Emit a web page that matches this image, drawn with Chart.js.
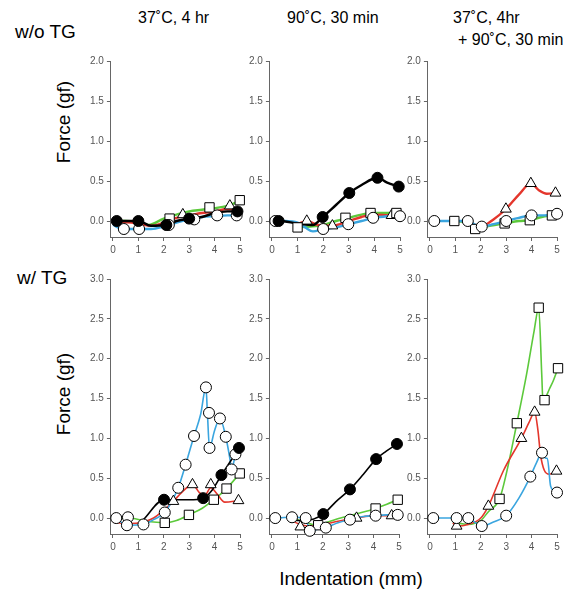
<!DOCTYPE html>
<html><head><meta charset="utf-8">
<script src="https://cdn.jsdelivr.net/npm/chart.js@4.4.1/dist/chart.umd.min.js"></script>
<style>
html,body{margin:0;padding:0;background:#fff;}
body{width:571px;height:592px;position:relative;overflow:hidden;font-family:"Liberation Sans",Arial,sans-serif;}
.t{position:absolute;white-space:nowrap;color:#000;line-height:1;}
canvas{position:absolute;}
</style></head><body>
<div class="t" style="left:15px;top:22px;font-size:19px;">w/o TG</div>
<div class="t" style="left:17px;top:268px;font-size:19px;">w/ TG</div>
<div class="t" style="left:138px;top:10px;font-size:16px;">37˚C, 4 hr</div>
<div class="t" style="left:287px;top:10px;font-size:16px;">90˚C, 30 min</div>
<div class="t" style="left:453px;top:10px;font-size:16px;">37˚C, 4hr</div>
<div class="t" style="left:458px;top:32px;font-size:16px;">+ 90˚C, 30 min</div>
<div class="t" style="left:63px;top:122px;font-size:19px;transform:translate(-50%,-50%) rotate(-90deg);">Force (gf)</div>
<div class="t" style="left:63px;top:394px;font-size:19px;transform:translate(-50%,-50%) rotate(-90deg);">Force (gf)</div>
<div class="t" style="left:351px;top:569px;font-size:19px;transform:translateX(-50%);">Indentation (mm)</div>
<script>
// ---- tick labels ----
const xTicks = [0, 1, 2, 3, 4, 5];
const yTicksTop = [0, 0.5, 1.0, 1.5, 2.0];
const yTicksBottom = [0, 0.5, 1.0, 1.5, 2.0, 2.5, 3.0];

// ---- Panel A: w/o TG, 37˚C 4 hr ----
const A_green = [[0,0],[0.5,0],[1.0,-0.02],[1.4,-0.05],[2.0,0.03],[2.5,0.08],[3.0,0.12],[3.5,0.14],[4.0,0.16],[4.5,0.19],[5.0,0.25]];
const A_red   = [[0,0],[1.0,-0.03],[1.5,-0.06],[2.0,-0.02],[2.5,0.04],[3.0,0.07],[3.5,0.1],[4.0,0.12],[4.5,0.15],[5.0,0.14]];
const A_blue  = [[0,-0.05],[0.4,-0.1],[1.0,-0.1],[1.5,-0.1],[2.0,-0.07],[2.5,-0.02],[3.0,0.02],[3.5,0.05],[4.0,0.06],[4.5,0.07],[5.0,0.07]];
const A_black = [[0.15,0],[1.0,0],[1.5,-0.06],[2.1,-0.05],[2.5,0.0],[3.0,0.03],[3.5,0.05],[4.0,0.1],[4.5,0.12],[4.9,0.12]];
const A_fill  = [[0.15,0],[1.0,0],[2.1,-0.05],[3.0,0.03],[4.9,0.12]];
const A_open  = [[0.43,-0.1],[1.03,-0.1],[2.2,-0.05],[3.2,0.02],[4.1,0.07],[4.87,0.07]];
const A_sq    = [[2.23,0.03],[3.8,0.17],[4.99,0.26]];
const A_tri   = [[2.75,0.08],[4.6,0.19]];

// ---- Panel B: w/o TG, 90˚C 30 min ----
const B_green = [[1.0,-0.08],[1.5,-0.07],[2.0,-0.05],[2.5,0.0],[3.0,0.04],[3.5,0.08],[3.85,0.1],[4.3,0.1],[4.86,0.1]];
const B_red   = [[1.0,-0.04],[1.36,0],[1.8,-0.05],[2.36,-0.06],[3.0,0.0],[3.5,0.05],[4.0,0.08],[4.67,0.07]];
const B_blue  = [[0,0],[0.5,0],[1.0,-0.02],[1.3,-0.08],[1.6,-0.13],[2.0,-0.1],[2.5,-0.08],[3.0,-0.04],[3.5,0.0],[4.0,0.04],[4.5,0.06],[5.0,0.07]];
const B_black = [[0.13,0],[0.26,0],[1.0,-0.03],[1.6,-0.05],[1.98,0.05],[2.5,0.2],[3.02,0.35],[3.5,0.45],[4.12,0.54],[4.5,0.48],[4.95,0.43]];
const B_fill  = [[0.26,0],[1.98,0.05],[3.02,0.35],[4.12,0.54],[4.95,0.43]];
const B_open  = [[0.13,0],[2.0,-0.1],[2.98,-0.04],[3.95,0.04],[5.0,0.06]];
const B_sq    = [[1.0,-0.08],[2.87,0.04],[3.85,0.1],[4.86,0.1]];
const B_tri   = [[1.36,0],[2.36,-0.06],[4.67,0.07]];

// ---- Panel C: w/o TG, 37˚C 4hr + 90˚C 30 min ----
const C_green = [[0.96,0],[1.5,-0.02],[1.78,-0.1],[2.2,-0.07],[2.94,-0.03],[3.5,0.0],[3.93,0.01],[4.4,0.05],[4.8,0.07]];
const C_red   = [[1.8,-0.05],[2.04,-0.06],[2.5,0.02],[2.99,0.15],[3.5,0.33],[3.97,0.47],[4.3,0.38],[4.6,0.34],[4.94,0.35]];
const C_blue  = [[0,0],[0.5,0],[1.0,0],[1.5,0],[1.8,-0.05],[2.04,-0.07],[2.5,-0.04],[3.0,0],[3.5,0.04],[4.0,0.07],[4.5,0.07],[5.0,0.09]];
const C_black = [];
const C_fill  = [];
const C_open  = [[0.17,0],[1.49,0],[2.04,-0.07],[3.0,0],[4.0,0.07],[5.0,0.09]];
const C_sq    = [[0.96,0],[1.78,-0.1],[2.94,-0.03],[3.93,0.01],[4.8,0.07]];
const C_tri   = [[2.99,0.15],[3.97,0.47],[4.94,0.35]];

// ---- Panel D: w/ TG, 37˚C 4 hr ----
const D_green = [[0,0],[0.6,0],[1.2,-0.03],[1.6,-0.05],[2.04,-0.06],[2.5,-0.03],[2.99,0.04],[3.5,0.12],[3.97,0.23],[4.47,0.37],[4.99,0.56]];
const D_red   = [[0,-0.05],[0.6,-0.07],[1.2,-0.05],[1.6,0.0],[2.0,0.1],[2.38,0.21],[2.7,0.32],[3.13,0.42],[3.4,0.32],[3.6,0.28],[3.85,0.38],[4.1,0.3],[4.4,0.2],[4.94,0.22]];
const D_blue  = [[0.13,0],[0.55,-0.09],[1.2,-0.08],[1.6,-0.02],[2.04,0.07],[2.3,0.2],[2.57,0.38],[2.86,0.67],[3.19,1.03],[3.45,1.3],[3.66,1.64],[3.72,1.3],[3.8,0.88],[4.0,1.1],[4.21,1.25],[4.44,1.02],[4.6,0.75],[4.67,0.61],[4.82,0.8],[4.9,0.85]];
const D_black = [[1.2,-0.02],[2.01,0.23],[2.5,0.23],[3.0,0.23],[3.55,0.25],[3.9,0.35],[4.27,0.54],[4.6,0.7],[4.96,0.88]];
const D_fill  = [[2.01,0.23],[3.55,0.25],[4.27,0.54],[4.96,0.88]];
const D_open  = [[0.13,0],[0.59,0.01],[0.55,-0.09],[1.2,-0.08],[2.04,0.07],[2.57,0.38],[2.86,0.67],[3.19,1.03],[3.66,1.64],[3.78,1.32],[3.8,0.88],[4.21,1.25],[4.44,1.02],[4.67,0.61],[4.82,0.8]];
const D_sq    = [[2.04,-0.06],[2.99,0.04],[3.97,0.23],[4.47,0.37],[4.99,0.56]];
const D_tri   = [[2.38,0.21],[3.13,0.42],[3.85,0.42],[4.94,0.22]];

// ---- Panel E: w/ TG, 90˚C 30 min ----
const E_green = [[0.8,0],[1.3,-0.05],[1.82,-0.09],[2.2,-0.05],[2.7,0.0],[3.3,0.05],[4.08,0.12],[4.5,0.17],[4.95,0.23]];
const E_red   = [[0.7,-0.02],[1.12,-0.08],[1.5,-0.1],[2.0,-0.08],[2.6,-0.04],[3.33,0.0],[4.0,0.03],[4.71,0.03]];
const E_blue  = [[0.13,0],[0.79,0.01],[1.33,0],[1.49,-0.16],[1.8,-0.14],[2.12,-0.12],[2.6,-0.06],[3.07,-0.02],[3.6,0.02],[4.08,0.03],[4.5,0.04],[4.95,0.04]];
const E_black = [[0.7,-0.03],[1.3,-0.03],[2.02,0.05],[2.5,0.2],[3.07,0.36],[3.6,0.55],[4.1,0.74],[4.5,0.84],[4.92,0.93]];
const E_fill  = [[2.02,0.05],[3.07,0.36],[4.1,0.74],[4.92,0.93]];
const E_open  = [[0.13,0],[0.79,0.01],[1.33,0],[1.49,-0.16],[2.12,-0.12],[3.07,-0.02],[4.08,0.03],[4.95,0.04]];
const E_sq    = [[1.82,-0.09],[4.08,0.12],[4.95,0.23]];
const E_tri   = [[1.12,-0.11],[3.33,0.0],[4.71,0.03]];

// ---- Panel F: w/ TG, 37˚C 4hr + 90˚C 30 min ----
const F_green = [[0.9,-0.05],[1.5,-0.08],[2.0,-0.03],[2.3,0.08],[2.74,0.24],[3.0,0.55],[3.42,1.19],[3.8,1.8],[4.1,2.35],[4.28,2.64],[4.4,1.8],[4.45,1.45],[4.51,1.48],[4.7,1.62],[4.85,1.72],[5.04,1.88]];
const F_red   = [[0.9,-0.06],[1.05,-0.1],[1.5,-0.08],[2.0,0.0],[2.3,0.15],[2.9,0.6],[3.6,1.0],[3.9,1.2],[4.12,1.33],[4.25,1.1],[4.35,0.8],[4.5,0.6],[4.7,0.55],[4.98,0.59]];
const F_blue  = [[0.13,0],[1.05,0],[1.51,0],[1.8,-0.06],[2.04,-0.1],[2.5,-0.05],[3.0,0.03],[3.5,0.25],[3.95,0.52],[4.2,0.7],[4.41,0.82],[4.55,0.75],[4.62,0.75],[4.75,0.4],[5.0,0.32]];
const F_black = [];
const F_fill  = [];
const F_open  = [[0.13,0],[1.05,0],[1.51,0],[2.04,-0.1],[3.0,0.03],[3.95,0.52],[4.41,0.82],[5.0,0.32]];
const F_sq    = [[2.74,0.24],[3.42,1.19],[4.28,2.64],[4.51,1.48],[5.04,1.88]];
const F_tri   = [[1.05,-0.1],[2.3,0.15],[3.6,1.0],[4.12,1.33],[4.98,0.59]];

// ---- layout (chart-area boxes in page pixels) ----
const panels = [
  {left:111, top:61,  w:129, h:176, ymax:2, yt:yTicksTop, lw:2.4, s:[A_green,A_red,A_blue,A_black,A_fill,A_open,A_sq,A_tri]},
  {left:270, top:61,  w:130, h:176, ymax:2, yt:yTicksTop, lw:2.4, s:[B_green,B_red,B_blue,B_black,B_fill,B_open,B_sq,B_tri]},
  {left:428, top:61,  w:129, h:176, ymax:2, yt:yTicksTop, lw:2.4, s:[C_green,C_red,C_blue,C_black,C_fill,C_open,C_sq,C_tri]},
  {left:111, top:279, w:129, h:255, ymax:3, yt:yTicksBottom, lw:1.6, s:[D_green,D_red,D_blue,D_black,D_fill,D_open,D_sq,D_tri]},
  {left:270, top:279, w:129, h:255, ymax:3, yt:yTicksBottom, lw:1.6, s:[E_green,E_red,E_blue,E_black,E_fill,E_open,E_sq,E_tri]},
  {left:428, top:279, w:129, h:255, ymax:3, yt:yTicksBottom, lw:1.6, s:[F_green,F_red,F_blue,F_black,F_fill,F_open,F_sq,F_tri]}
];

const COLORS = {green:'#5cc93b', red:'#e4362c', blue:'#3aa5df', black:'#000000'};
const xy = d => d.map(p => ({x:p[0], y:p[1]}));
const axisGray = '#666';
const tickFont = {family:'"Liberation Sans", Arial, sans-serif', size:10};

function cfg(p){
  const [g,r,b,k,fi,op,sq,tr] = p.s;
  const line = (d,c) => ({data:xy(d), showLine:true, borderColor:c, borderWidth:p.lw, pointRadius:0, pointHoverRadius:0, cubicInterpolationMode:'monotone', clip:false});
  const mark = (d,style,rad,fill) => ({data:xy(d), showLine:false, pointStyle:style, pointRadius:rad, pointHoverRadius:rad, pointBackgroundColor:fill, pointBorderColor:'#000', pointBorderWidth:1, clip:false});
  const datasets = [
    mark(fi,'circle',5.5,'#000'),
    mark(op,'circle',5.5,'#fff'),
    mark(sq,'rect',6.6,'#fff'),
    mark(tr,'triangle',6.2,'#fff'),
    line(k,COLORS.black),
    line(b,COLORS.blue),
    line(r,COLORS.red),
    line(g,COLORS.green)
  ];
  return {
    type:'scatter',
    data:{datasets},
    options:{
      responsive:false, maintainAspectRatio:false, animation:false, devicePixelRatio:1, events:[],
      layout:{padding:{top:10,right:10,left:0,bottom:0}},
      plugins:{legend:{display:false}, tooltip:{enabled:false}},
      scales:{
        x:{type:'linear', min:-0.08, max:5,
           afterBuildTicks:s=>{s.ticks = xTicks.map(v=>({value:v}));},
           ticks:{font:tickFont, color:'#555', padding:3, maxRotation:0, autoSkip:false, callback:v=>String(v)},
           grid:{drawOnChartArea:false, drawTicks:true, tickLength:4, color:axisGray, lineWidth:1},
           border:{display:true, color:axisGray, width:1}},
        y:{type:'linear', min:-0.2, max:p.ymax,
           afterBuildTicks:s=>{s.ticks = p.yt.map(v=>({value:v}));},
           ticks:{font:tickFont, color:'#555', padding:3, autoSkip:false, callback:v=>Number(v).toFixed(1)},
           grid:{drawOnChartArea:false, drawTicks:true, tickLength:4, color:axisGray, lineWidth:1},
           border:{display:true, color:axisGray, width:1}}
      }
    }
  };
}

function buildPanel(p){
  const cv = document.createElement('canvas');
  document.body.appendChild(cv);
  let W = p.w + 50, H = p.h + 45;
  const make = () => {
    cv.width = W; cv.height = H;
    cv.style.width = W + 'px'; cv.style.height = H + 'px';
    return new Chart(cv, cfg(p));
  };
  let ch = make();
  const a = ch.chartArea;
  W += Math.round(p.w - (a.right - a.left));
  H += Math.round(p.h - (a.bottom - a.top));
  ch.destroy();
  ch = make();
  const b = ch.chartArea;
  cv.style.position = 'absolute';
  cv.style.left = Math.round(p.left - b.left) + 'px';
  cv.style.top = Math.round(p.top - b.top) + 'px';
}
panels.forEach(buildPanel);
</script>
</body></html>
